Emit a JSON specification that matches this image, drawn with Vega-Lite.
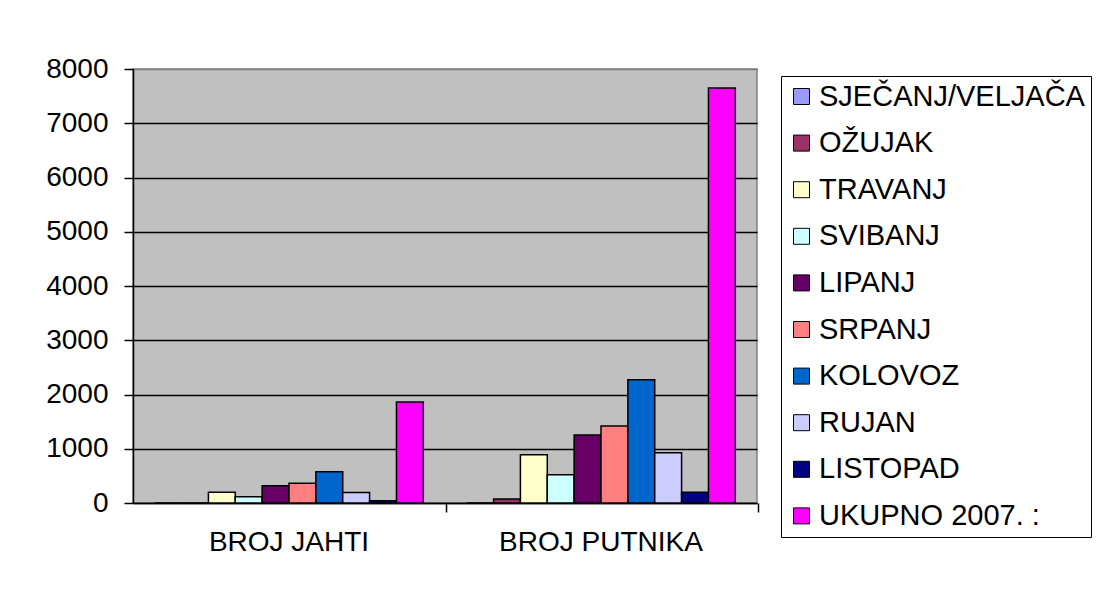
{
  "$schema": "https://vega.github.io/schema/vega-lite/v6.json",
  "width": 624,
  "height": 434,
  "autosize": {"type": "none"},
  "padding": {"left": 133, "top": 69, "right": 341, "bottom": 93},
  "background": "white",
  "config": {
    "font": "Liberation Sans",
    "view": {"fill": "#C0C0C0", "stroke": "#808080", "strokeWidth": 1.5}
  },
  "data": {
    "values": [
      {"kategorija": "BROJ JAHTI", "mjesec": "SJEČANJ/VELJAČA", "vrijednost": 0},
      {"kategorija": "BROJ JAHTI", "mjesec": "OŽUJAK", "vrijednost": 0},
      {"kategorija": "BROJ JAHTI", "mjesec": "TRAVANJ", "vrijednost": 200},
      {"kategorija": "BROJ JAHTI", "mjesec": "SVIBANJ", "vrijednost": 115},
      {"kategorija": "BROJ JAHTI", "mjesec": "LIPANJ", "vrijednost": 320},
      {"kategorija": "BROJ JAHTI", "mjesec": "SRPANJ", "vrijednost": 365},
      {"kategorija": "BROJ JAHTI", "mjesec": "KOLOVOZ", "vrijednost": 575},
      {"kategorija": "BROJ JAHTI", "mjesec": "RUJAN", "vrijednost": 195},
      {"kategorija": "BROJ JAHTI", "mjesec": "LISTOPAD", "vrijednost": 40},
      {"kategorija": "BROJ JAHTI", "mjesec": "UKUPNO 2007. :", "vrijednost": 1860},
      {"kategorija": "BROJ PUTNIKA", "mjesec": "SJEČANJ/VELJAČA", "vrijednost": 0},
      {"kategorija": "BROJ PUTNIKA", "mjesec": "OŽUJAK", "vrijednost": 75},
      {"kategorija": "BROJ PUTNIKA", "mjesec": "TRAVANJ", "vrijednost": 890},
      {"kategorija": "BROJ PUTNIKA", "mjesec": "SVIBANJ", "vrijednost": 520},
      {"kategorija": "BROJ PUTNIKA", "mjesec": "LIPANJ", "vrijednost": 1255},
      {"kategorija": "BROJ PUTNIKA", "mjesec": "SRPANJ", "vrijednost": 1420},
      {"kategorija": "BROJ PUTNIKA", "mjesec": "KOLOVOZ", "vrijednost": 2270},
      {"kategorija": "BROJ PUTNIKA", "mjesec": "RUJAN", "vrijednost": 925},
      {"kategorija": "BROJ PUTNIKA", "mjesec": "LISTOPAD", "vrijednost": 200},
      {"kategorija": "BROJ PUTNIKA", "mjesec": "UKUPNO 2007. :", "vrijednost": 7650}
    ]
  },
  "mark": {"type": "bar", "stroke": "black", "strokeWidth": 1.5},
  "encoding": {
    "x": {
      "field": "kategorija",
      "type": "nominal",
      "sort": ["BROJ JAHTI", "BROJ PUTNIKA"],
      "scale": {"paddingInner": 0.139, "paddingOuter": 0.0695},
      "axis": {
        "title": null,
        "labelAngle": 0,
        "labelFontSize": 28,
        "labelColor": "black",
        "labelPadding": 16,
        "labelLimit": 400,
        "domainColor": "black",
        "domainWidth": 1.5,
        "tickColor": "black",
        "tickWidth": 1.5,
        "tickSize": 9,
        "bandPosition": 1.0846
      }
    },
    "xOffset": {
      "field": "mjesec",
      "type": "nominal",
      "sort": ["SJEČANJ/VELJAČA", "OŽUJAK", "TRAVANJ", "SVIBANJ", "LIPANJ", "SRPANJ", "KOLOVOZ", "RUJAN", "LISTOPAD", "UKUPNO 2007. :"],
      "scale": {"paddingInner": 0, "paddingOuter": 0}
    },
    "y": {
      "field": "vrijednost",
      "type": "quantitative",
      "scale": {"domain": [0, 8000], "nice": false},
      "axis": {
        "title": null,
        "values": [0, 1000, 2000, 3000, 4000, 5000, 6000, 7000, 8000],
        "format": "d",
        "labelFontSize": 28,
        "labelColor": "black",
        "labelPadding": 16,
        "tickSize": 9,
        "tickColor": "black",
        "tickWidth": 1.5,
        "domainColor": "black",
        "domainWidth": 1.5,
        "grid": true,
        "gridColor": {"condition": {"test": "datum.value == 8000", "value": "#808080"}, "value": "black"},
        "gridWidth": 1.5,
        "gridOpacity": 1
      }
    },
    "color": {
      "field": "mjesec",
      "type": "nominal",
      "scale": {
        "domain": ["SJEČANJ/VELJAČA", "OŽUJAK", "TRAVANJ", "SVIBANJ", "LIPANJ", "SRPANJ", "KOLOVOZ", "RUJAN", "LISTOPAD", "UKUPNO 2007. :"],
        "range": ["#9999FF", "#993366", "#FFFFCC", "#CCFFFF", "#660066", "#FF8080", "#0066CC", "#CCCCFF", "#000080", "#FF00FF"]
      },
      "legend": {
        "title": null,
        "orient": "none",
        "legendX": 648,
        "legendY": 7,
        "strokeColor": "black",
        "fillColor": "white",
        "padding": 6,
        "symbolType": "square",
        "symbolSize": 256,
        "symbolStrokeColor": "black",
        "symbolStrokeWidth": 1,
        "symbolOpacity": 1,
        "labelFontSize": 29,
        "labelColor": "black",
        "labelOffset": 3,
        "labelLimit": 400,
        "rowPadding": 16.6
      }
    }
  }
}
